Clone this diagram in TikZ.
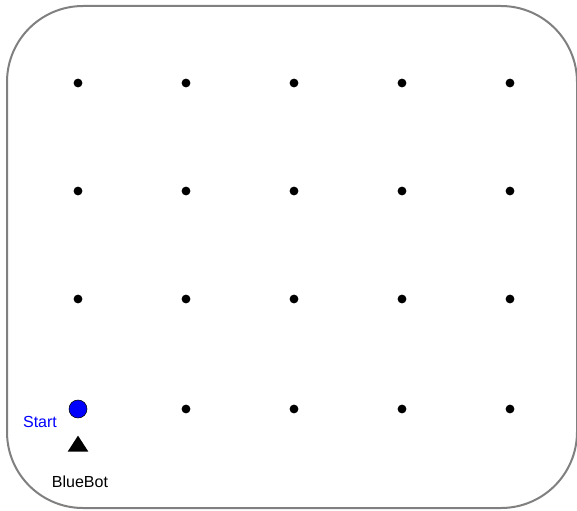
\documentclass[tikz,border=0pt]{standalone}
\usepackage{fontspec}
\setmainfont{Liberation Sans}
\usetikzlibrary{shapes.geometric}
\begin{document}
\begin{tikzpicture}[x=0.75pt,y=-0.75pt,
  frame/.style={draw=black!50,line width=1.5pt,rounded corners=57pt},
  gdot/.style={circle,fill=black,inner sep=0pt,minimum size=6.6pt},
  startdot/.style={circle,fill=blue,draw=black,line width=0.4pt,inner sep=0pt,minimum size=13.5pt},
  bot/.style={isosceles triangle,isosceles triangle apex angle=70,isosceles triangle stretches,shape border rotate=90,fill=black,inner sep=0pt,minimum height=12pt,minimum width=15.5pt},
  lbl/.style={font=\fontsize{12pt}{14pt}\selectfont,inner sep=0pt}]
\useasboundingbox (0,0) rectangle (577,510);
\fill[white] (0,0) rectangle (577,510);
\draw[frame] (7,6) rectangle (577,508);
\foreach \c [count=\i] in {78,186,294,402,510}{
  \foreach \r [count=\j] in {83,191,299,409}{
    \ifnum\i=1 \ifnum\j=4 \else \node[gdot] (d\i\j) at (\c,\r) {}; \fi
    \else \node[gdot] (d\i\j) at (\c,\r) {}; \fi
  }
}
\node[startdot] (start) at (78,409) {};
\node[bot] (bb) at (78,446) {};
\node[lbl,text=blue] (startl) at (40,422) {Start};
\node[lbl] (bbl) at (80,482) {BlueBot};
\end{tikzpicture}
\end{document}
